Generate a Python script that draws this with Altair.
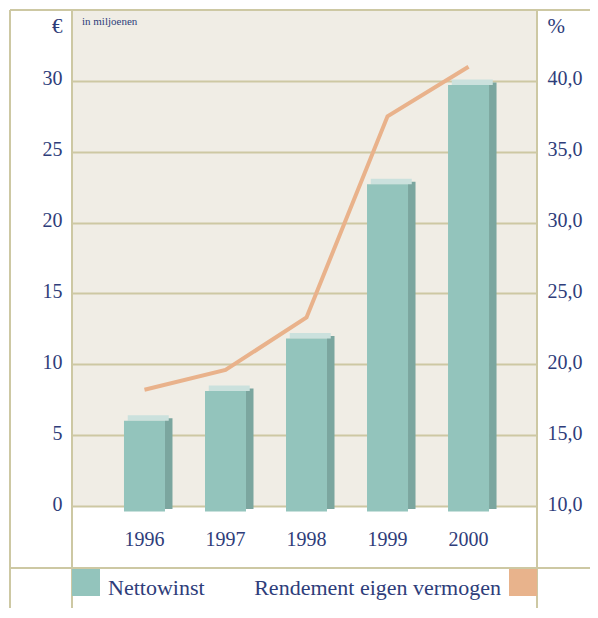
import altair as alt
import pandas as pd

years = ["1996", "1997", "1998", "1999", "2000"]
nettowinst = [6.4, 8.5, 12.2, 23.1, 30.1]
rendement = [18.2, 19.6, 23.3, 37.5, 41.0]
left_ticks = [0, 5, 10, 15, 20, 25, 30]
right_ticks = [10, 15, 20, 25, 30, 35, 40]

df = pd.DataFrame({"jaar": years, "winst": nettowinst, "rendement": rendement})

NAVY = "#2e3d7a"
GRID = "#cdc8a3"
FONT = "Liberation Serif"
TEAL = "#93c4bc"
TEAL_SIDE = "#7ba69f"
TEAL_TOP = "#cbe1dd"
ORANGE = "#e9b28b"
W, H = 465, 496
RIGHT_PAD = 53

xenc = alt.X(
    "jaar:N", sort=years,
    scale=alt.Scale(paddingInner=0.5, paddingOuter=0.62, align=0.52),
    axis=alt.Axis(title=None, labelAngle=0, domain=False, ticks=False, labelPadding=23,
                  labelFontSize=20, labelFont=FONT, labelColor=NAVY),
)

left_axis = alt.Axis(
    values=left_ticks, title="€", titleAngle=0, titleX=-10, titleY=22,
    titleAlign="right", titleBaseline="alphabetic", titleFont=FONT, titleFontSize=21,
    titleFontWeight="normal", titleColor=NAVY,
    labelFont=FONT, labelFontSize=20, labelColor=NAVY, labelPadding=10, labelOffset=-2,
    ticks=False, tickSize=0, domain=False, grid=True, gridColor=GRID, gridWidth=2,
)
yscale = alt.Scale(domain=[0, 35], nice=False, zero=True)
yleft = alt.Y("winst:Q", scale=yscale, axis=left_axis)

base = alt.Chart(df)
side = base.mark_bar(width=7.5, xOffset=24.25, yOffset=3, y2Offset=3, color=TEAL_SIDE).encode(
    x=xenc, y=yleft, y2=alt.datum(0))
top = base.mark_bar(width=41, xOffset=3.75, y2Offset=5.5, color=TEAL_TOP).encode(
    x=xenc, y=yleft, y2=alt.Y2("winst:Q"))
front = base.mark_bar(width=41, yOffset=5.5, y2Offset=5.5, color=TEAL).encode(
    x=xenc, y=yleft, y2=alt.datum(0))
bars = alt.layer(side, top, front)

right_axis = alt.Axis(
    orient="right", values=right_ticks,
    labelExpr="replace(format(datum.value, '.1f'), '.', ',')",
    title="%", titleAngle=0, titleX=10, titleY=22, titleAlign="left",
    titleBaseline="alphabetic", titleFont=FONT, titleFontSize=21, titleFontWeight="normal",
    titleColor=NAVY, labelFont=FONT, labelFontSize=20, labelColor=NAVY, labelPadding=10,
    labelOffset=-2, ticks=False, tickSize=0, domain=False, grid=False,
)
line = base.mark_line(color=ORANGE, strokeWidth=4).encode(
    x=xenc,
    y=alt.Y("rendement:Q", scale=alt.Scale(domain=[10, 45], nice=False, zero=False), axis=right_axis),
)

one = alt.Data(values=[{}])
rule_specs = [
    dict(x=alt.value(-62), y=alt.value(0), y2=alt.value(620)),
    dict(x=alt.value(0), y=alt.value(0), y2=alt.value(620)),
    dict(x=alt.value(W), y=alt.value(0), y2=alt.value(620)),
    dict(x=alt.value(-62), x2=alt.value(W + RIGHT_PAD), y=alt.value(0)),
    dict(x=alt.value(-62), x2=alt.value(W + RIGHT_PAD), y=alt.value(558)),
]
rules = [alt.Chart(one).mark_rule(color=GRID, strokeWidth=2).encode(**r) for r in rule_specs]

legend_teal = alt.Chart(one).mark_rect(color=TEAL).encode(
    x=alt.value(0), x2=alt.value(28), y=alt.value(559), y2=alt.value(586))
legend_orange = alt.Chart(one).mark_rect(color="#e8b38c").encode(
    x=alt.value(W - 28), x2=alt.value(W), y=alt.value(559), y2=alt.value(586))
legend_t1 = alt.Chart(one).mark_text(font=FONT, fontSize=22, color=NAVY, align="left",
                                     baseline="alphabetic").encode(
    x=alt.value(36), y=alt.value(585), text=alt.value("Nettowinst"))
legend_t2 = alt.Chart(one).mark_text(font=FONT, fontSize=22, color=NAVY, align="right",
                                     baseline="alphabetic").encode(
    x=alt.value(429), y=alt.value(585), text=alt.value("Rendement eigen vermogen"))
unit_note = alt.Chart(one).mark_text(font=FONT, fontSize=11, color=NAVY, align="left",
                                     baseline="alphabetic").encode(
    x=alt.value(10), y=alt.value(15), text=alt.value("in miljoenen"))

main = alt.layer(bars, line).resolve_scale(y="independent")

chart = alt.layer(
    *rules, main, legend_teal, legend_orange, legend_t1, legend_t2, unit_note
).properties(
    width=W, height=H,
    autosize=alt.AutoSizeParams(type="none"),
    padding={"left": 64, "top": 2, "right": RIGHT_PAD, "bottom": 102},
    background="white",
).configure_view(fill="#f0ede5", stroke=None)

chart.save("out.html", embed_options={"renderer": "svg", "actions": False})
